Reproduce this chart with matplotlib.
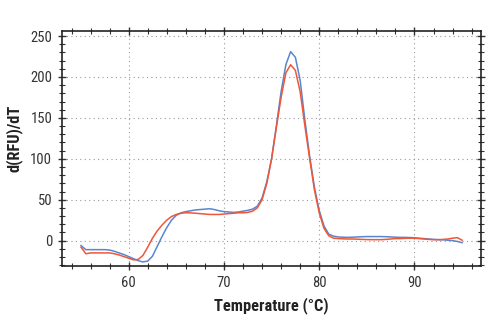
import numpy as np
import matplotlib.pyplot as plt
from matplotlib import font_manager
from matplotlib.ticker import MultipleLocator

# prefer a narrow sans if one is installed
installed = {f.name for f in font_manager.fontManager.ttflist}
family = [f for f in ['Liberation Sans Narrow', 'DejaVu Sans Condensed', 'Roboto Condensed',
                      'Liberation Sans'] if f in installed][:1] + ['DejaVu Sans']
plt.rcParams['font.family'] = family

# melt curve derivative, one reading every 0.5 degC
temperature = np.arange(55.0, 95.5, 0.5)

sample_blue = [
    -6, -11, -11, -11, -11, -11, -11.5, -13, -15, -17,
    -19.5, -22, -24.5, -26, -25, -19, -7, 5, 16, 25,
    31, 34, 35.5, 36.5, 37.5, 38, 38.5, 39, 38, 36.5,
    35.5, 35, 34.5, 35, 36, 37, 38.5, 42, 52, 72,
    100, 140, 182, 215, 231, 224, 196, 147, 103, 65,
    37, 18, 8, 5.5, 4.5, 4.2, 4, 4.2, 4.5, 4.8,
    5, 5, 5, 5, 4.8, 4.5, 4.2, 4, 4, 3.8,
    3.5, 3, 2.5, 2, 1.5, 1.2, 1, 0.5, 0, -1, -2.5,
]
sample_red = [
    -8, -16, -15, -15, -15, -15, -15, -16, -17.5, -19.5,
    -21.5, -23.5, -23, -18, -8, 3, 12, 19, 25, 29.5,
    32, 33.5, 34, 34, 33.5, 33, 32.5, 32, 32, 32,
    32.5, 33, 33.5, 34, 34, 34.5, 36, 40, 50, 70,
    100, 138, 175, 205, 215, 208, 182, 140, 100, 62,
    34, 15, 6, 3, 2.5, 2.2, 2, 2, 1.8, 1.5,
    1.3, 1.2, 1.2, 1.2, 1.5, 2, 2.5, 2.5, 2.8, 3,
    3, 2.5, 2, 1.5, 1.2, 1.2, 1.5, 2, 3, 3.7, 0.5,
]

fig = plt.figure(figsize=(4.88, 3.28), dpi=100)
ax = fig.add_axes([0.127, 0.189, 0.859, 0.716])

ax.plot(temperature, sample_blue, color='#5a86cc', lw=1.1)
ax.plot(temperature, sample_red, color='#f05638', lw=1.1)

ax.set_xlim(53, 97)
ax.set_ylim(-31, 256)
ax.xaxis.set_major_locator(MultipleLocator(10))
ax.xaxis.set_minor_locator(MultipleLocator(2))
ax.yaxis.set_major_locator(MultipleLocator(50))
ax.yaxis.set_minor_locator(MultipleLocator(10))
ax.set_xticks([60, 70, 80, 90])

ax.grid(True, which='major', color='#999999', lw=0.8, linestyle=(0, (1, 3)))

for s in ax.spines.values():
    s.set_color('#222222')
    s.set_linewidth(1.2)

ax.tick_params(which='both', direction='inout', top=True, right=True,
               colors='#333333', labelcolor='#333333', labelsize=10.5)
ax.tick_params(which='major', length=6, width=1.0, pad=4)
ax.tick_params(which='minor', length=4, width=0.8)

ax.set_xlabel('Temperature (°C)', fontsize=11.8, fontweight='bold', color='#222222')
ax.set_ylabel('d(RFU)/dT', fontsize=11.8, fontweight='bold', color='#222222')
ax.xaxis.set_label_coords(0.5, -0.131)
ax.yaxis.set_label_coords(-0.093, 0.545)

fig.savefig('out.png', dpi=100)
